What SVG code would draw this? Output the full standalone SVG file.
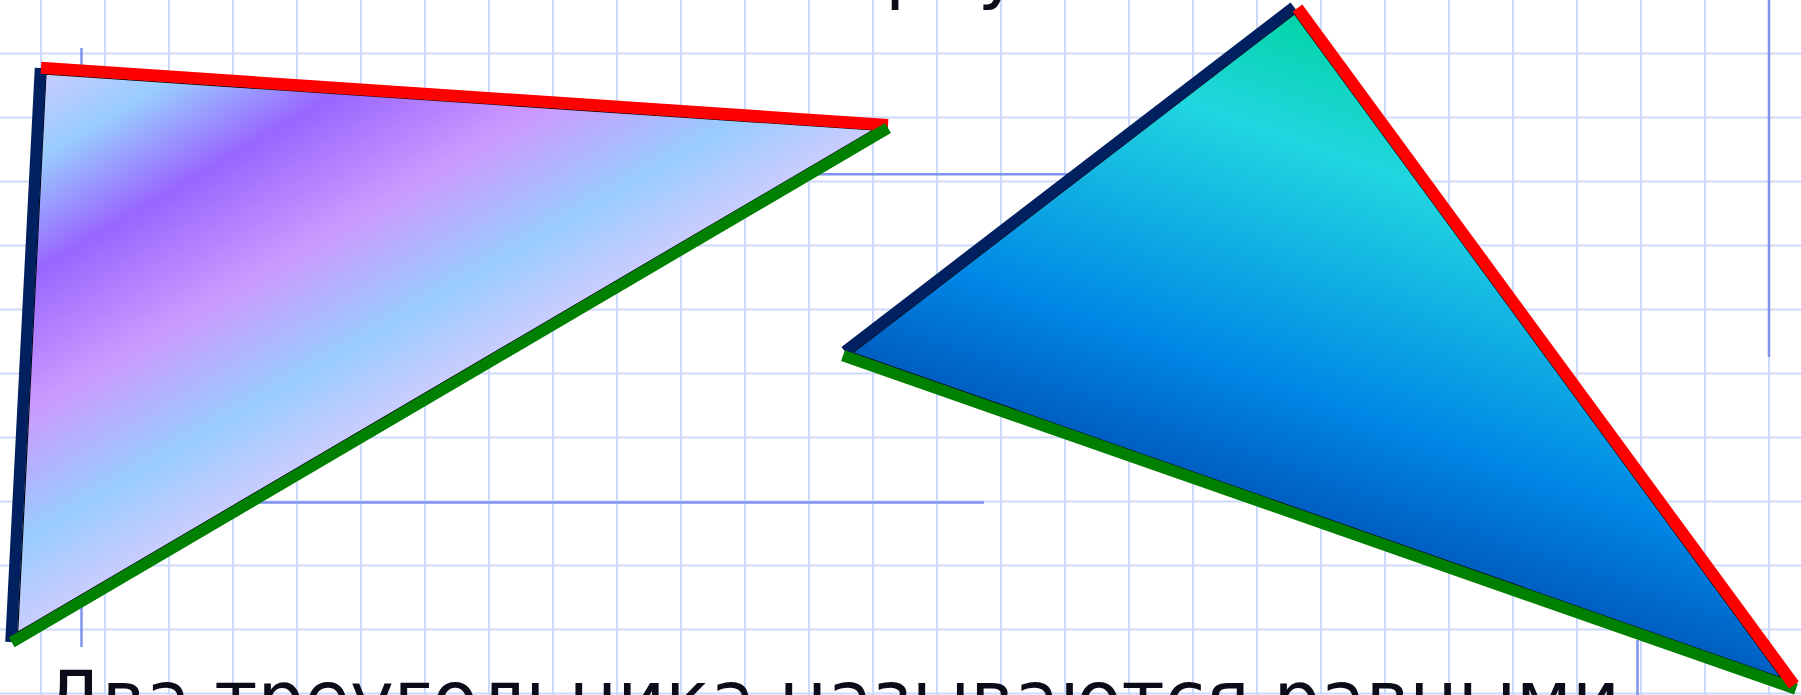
<svg xmlns="http://www.w3.org/2000/svg" width="1801" height="695" viewBox="0 0 1801 695">
  <style>
    .grid { stroke: #cdd9f9; stroke-width: 2; fill: none; }
    .axis { stroke: #7f93ef; stroke-width: 2.5; fill: none; }
    .edge { fill: none; stroke-linecap: butt; }
    .red { stroke: #ff0000; stroke-width: 12; }
    .navy { stroke: #002060; stroke-width: 11.5; }
    .green { stroke: #008000; stroke-width: 11.5; }
    .fillpoly { stroke: #000000; stroke-width: 1.2; }
    .txt { font-family: "DejaVu Sans", "Noto Sans", sans-serif; font-size: 74px; fill: #0b0b1a; }
  </style>
  <defs>
    <linearGradient id="calmWater" gradientUnits="userSpaceOnUse" x1="41" y1="68" x2="283.7" y2="481">
      <stop offset="0" stop-color="#ccccff"/>
      <stop offset="0.16" stop-color="#99ccff"/>
      <stop offset="0.36" stop-color="#9966ff"/>
      <stop offset="0.6" stop-color="#cc99ff"/>
      <stop offset="0.83" stop-color="#99ccff"/>
      <stop offset="1" stop-color="#ccccff"/>
    </linearGradient>
    <linearGradient id="ocean" gradientUnits="userSpaceOnUse" x1="1295" y1="15" x2="1139.3" y2="459.5">
      <stop offset="0" stop-color="#03d4a8"/>
      <stop offset="0.25" stop-color="#21d6e0"/>
      <stop offset="0.75" stop-color="#0087e6"/>
      <stop offset="1" stop-color="#005cbf"/>
    </linearGradient>
  </defs>

  <rect x="0" y="0" width="1801" height="695" fill="#ffffff"/>

  <g id="grid">
    <path class="grid" d="M41 0V695M105 0V695M169 0V695M233 0V695M297 0V695M361 0V695M425 0V695M489 0V695M553 0V695M617 0V695M681 0V695M745 0V695M809 0V695M873 0V695M937 0V695M1001 0V695M1065 0V695M1129 0V695M1193 0V695M1257 0V695M1321 0V695M1385 0V695M1449 0V695M1513 0V695M1577 0V695M1641 0V695M1705 0V695M1769 0V695"/>
    <path class="grid" d="M0 53.5H1801M0 117.5H1801M0 181.5H1801M0 245.5H1801M0 309.5H1801M0 373.5H1801M0 437.5H1801M0 501.5H1801M0 565.5H1801M0 629.5H1801M0 693.5H1801"/>
  </g>

  <g id="axes">
    <path class="axis" d="M81.5 48V647"/>
    <path class="axis" d="M100 174.3H1100"/>
    <path class="axis" d="M100 502.5H984"/>
    <path class="axis" d="M1769 0V357"/>
    <path class="axis" d="M1637.5 640V695"/>
  </g>

  <g id="title">
    <text class="txt" x="842" y="-6">треугольники</text>
  </g>

  <g id="triangle1">
    <polygon class="fillpoly" points="45.94,74.13 873.3,130 17.66,632.2" fill="url(#calmWater)"/>
  </g>

  <g id="triangle2">
    <polygon class="fillpoly" points="1294.4,13.93 1781.3,677.8 852.66,352.88" fill="url(#ocean)"/>
  </g>

  <g id="connectors">
    <line class="edge navy" x1="40.5" y1="68" x2="11" y2="642"/>
    <line class="edge red" x1="41" y1="67.8" x2="888" y2="125"/>
    <line class="edge green" x1="11.7" y1="642.4" x2="888" y2="128"/>

    <line class="edge navy" x1="1294" y1="7" x2="845" y2="351.5"/>
    <line class="edge green" x1="843" y1="355.6" x2="1796" y2="689"/>
    <line class="edge red" x1="1297.5" y1="8" x2="1794" y2="685"/>
  </g>

  <g id="caption">
    <text class="txt" x="44" y="724">Два треугольника называются равными</text>
  </g>
</svg>
